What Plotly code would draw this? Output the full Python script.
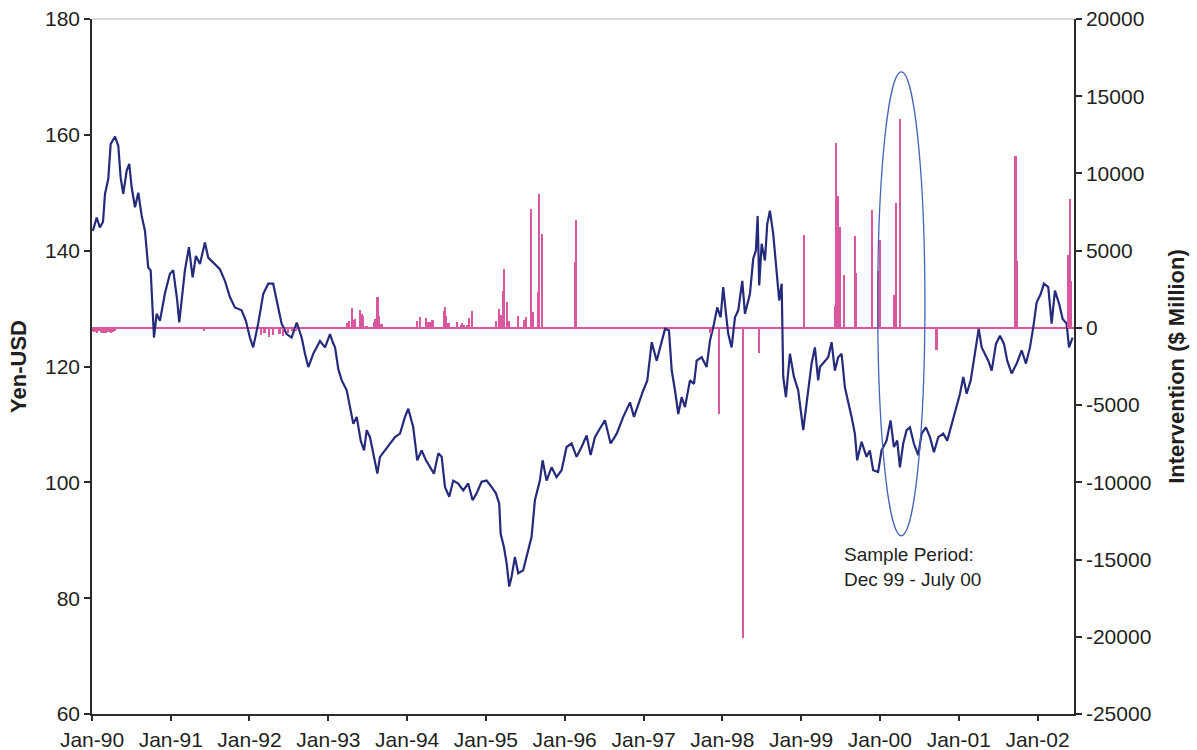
import pandas as pd
import plotly.graph_objects as go

# ---------------- data ----------------
# Yen per US dollar, time as decimal year
rate_year = [
    1990.01, 1990.06, 1990.10, 1990.14, 1990.165, 1990.207, 1990.237, 1990.292, 1990.334, 1990.364,
    1990.397, 1990.44, 1990.473, 1990.504, 1990.546, 1990.588, 1990.631, 1990.673, 1990.714, 1990.745,
    1990.787, 1990.821, 1990.863, 1990.926, 1990.99,
    1991.032, 1991.082, 1991.108, 1991.18, 1991.231, 1991.278, 1991.32, 1991.371, 1991.434, 1991.476,
    1991.561, 1991.624, 1991.688, 1991.751, 1991.815, 1991.90, 1991.954,
    1992.005, 1992.047, 1992.11, 1992.174, 1992.237, 1992.30, 1992.364, 1992.407, 1992.471, 1992.534,
    1992.598, 1992.661, 1992.703, 1992.745, 1992.808, 1992.893, 1992.957,
    1993.02, 1993.06, 1993.084, 1993.126, 1993.169, 1993.232, 1993.274, 1993.316, 1993.359, 1993.41,
    1993.452, 1993.486, 1993.528, 1993.57, 1993.621, 1993.655, 1993.718, 1993.782, 1993.845, 1993.909,
    1993.972,
    1994.014, 1994.077, 1994.128, 1994.184, 1994.239, 1994.289, 1994.34, 1994.395, 1994.438, 1994.48,
    1994.534, 1994.585, 1994.648, 1994.712, 1994.775, 1994.831, 1994.882, 1994.945,
    1995.009, 1995.072, 1995.127, 1995.169, 1995.187, 1995.228, 1995.263, 1995.296, 1995.326, 1995.368,
    1995.41, 1995.473, 1995.537, 1995.58, 1995.622, 1995.685, 1995.72, 1995.77, 1995.834, 1995.897,
    1995.961,
    1996.024, 1996.088, 1996.151, 1996.214, 1996.278, 1996.329, 1996.383, 1996.447, 1996.51, 1996.582,
    1996.659, 1996.742, 1996.827, 1996.878, 1996.933, 1996.996,
    1997.047, 1997.103, 1997.166, 1997.217, 1997.272, 1997.322, 1997.357, 1997.398, 1997.44, 1997.483,
    1997.525, 1997.589, 1997.64, 1997.674, 1997.737, 1997.80, 1997.843, 1997.885, 1997.935, 1997.978,
    1998.011, 1998.046, 1998.075, 1998.118, 1998.16, 1998.202, 1998.253, 1998.287, 1998.35, 1998.392,
    1998.426, 1998.448, 1998.468, 1998.499, 1998.541, 1998.57, 1998.604, 1998.646, 1998.689, 1998.722,
    1998.753, 1998.773, 1998.807, 1998.858, 1998.909, 1998.963,
    1999.027, 1999.078, 1999.133, 1999.175, 1999.217, 1999.239, 1999.28, 1999.344, 1999.387, 1999.429,
    1999.471, 1999.514, 1999.556, 1999.598, 1999.641, 1999.683, 1999.712, 1999.768, 1999.831, 1999.873,
    1999.915, 1999.978,
    2000.021, 2000.085, 2000.136, 2000.178, 2000.22, 2000.254, 2000.296, 2000.339, 2000.381, 2000.431,
    2000.486, 2000.529, 2000.584, 2000.635, 2000.685, 2000.74, 2000.803, 2000.854, 2000.91, 2000.964,
    2001.015, 2001.057, 2001.10, 2001.151, 2001.193, 2001.227, 2001.253, 2001.291, 2001.333, 2001.374,
    2001.418, 2001.472, 2001.523, 2001.574, 2001.615, 2001.671, 2001.735, 2001.798, 2001.853, 2001.904,
    2001.946, 2001.989,
    2002.04, 2002.081, 2002.136, 2002.179, 2002.221, 2002.275, 2002.319, 2002.369, 2002.40, 2002.445,
]
rate_yen = [
    143.4, 145.7, 144.0, 145.0, 149.8, 152.4, 158.4, 159.7, 158.1, 152.6,
    149.8, 153.8, 155.0, 150.9, 147.5, 150.0, 146.0, 143.4, 137.1, 136.6,
    125.0, 129.1, 127.9, 132.6, 136.0,
    136.6, 131.4, 127.6, 136.6, 140.6, 135.4, 139.1, 137.7, 141.4, 138.8,
    137.7, 136.8, 134.8, 132.0, 130.2, 129.7, 127.9,
    125.0, 123.3, 127.4, 132.5, 134.3, 134.3, 130.2, 127.4, 125.6, 125.0,
    127.6, 125.0, 122.2, 119.9, 122.2, 124.4, 123.3,
    125.6, 124.0, 123.3, 119.5, 117.6, 115.9, 113.0, 110.1, 111.3, 107.2,
    105.5, 109.0, 107.8, 105.0, 101.5, 104.4, 105.5, 106.7, 107.8, 108.4,
    111.3,
    112.7, 109.5, 103.8, 105.5, 103.8, 102.6, 101.5, 105.0, 104.4, 99.2,
    97.5, 100.3, 99.8, 98.6, 99.8, 96.9, 98.1, 100.1,
    100.3, 99.2, 98.1, 96.3, 91.1, 88.9, 86.0, 82.0, 83.7, 87.1,
    84.3, 84.8, 88.3, 90.6, 96.9, 100.3, 103.8, 100.3, 102.6, 100.9,
    102.1,
    106.1, 106.7, 104.4, 106.1, 108.1, 104.7, 107.8, 109.3, 110.7, 106.7,
    108.4, 111.3, 113.8, 111.3, 113.6, 115.9,
    117.6, 124.2, 121.0, 123.9, 126.5, 126.2, 119.3, 115.9, 111.8, 114.7,
    113.0, 117.6, 117.0, 121.0, 121.6, 119.9, 124.5, 126.8, 130.2, 128.5,
    133.7, 129.1, 125.6, 123.3, 128.5, 129.7, 134.8, 129.1, 132.5, 138.6,
    140.0, 146.0, 134.0, 141.2, 138.3, 144.6, 146.9, 142.9, 136.0, 131.4,
    134.3, 118.2, 114.7, 122.2, 118.2, 115.9,
    109.0, 114.1, 120.5, 123.3, 117.6, 119.9, 120.5, 121.6, 124.2, 119.3,
    121.6, 122.2, 116.4, 114.1, 111.3, 108.4, 103.8, 107.0, 104.4, 105.5,
    102.1, 101.8,
    105.5, 107.2, 110.7, 106.1, 107.2, 102.6, 106.7, 109.0, 109.5, 106.7,
    104.7, 108.4, 109.5, 107.8, 105.2, 107.8, 108.4, 107.2, 110.1, 112.4,
    115.3, 118.2, 115.3, 117.6, 121.0, 123.9, 126.5, 123.3, 122.2, 121.0,
    119.3, 123.9, 125.3, 123.9, 121.0, 118.8, 120.5, 122.8, 120.5, 123.3,
    126.8, 131.1,
    132.5, 134.3, 133.7, 127.4, 133.1, 130.8, 128.2, 127.4, 123.3, 125.0,
]

# Japanese intervention ($ million), time as decimal year
interv_year = [
    1990.005, 1990.027, 1990.049, 1990.071, 1990.093, 1990.115, 1990.137, 1990.159, 1990.181, 1990.203,
    1990.225, 1990.247, 1990.269, 1990.291,
    1990.558, 1991.43, 1991.637,
    1992.148, 1992.192, 1992.255, 1992.297, 1992.382, 1992.424, 1992.487, 1992.538, 1992.593,
    1993.245, 1993.265, 1993.30, 1993.316, 1993.341, 1993.401, 1993.423, 1993.443, 1993.486, 1993.579,
    1993.60, 1993.626, 1993.646, 1993.676,
    1994.128, 1994.162, 1994.239, 1994.268, 1994.298, 1994.324, 1994.467, 1994.48, 1994.501, 1994.527,
    1994.632, 1994.683, 1994.704, 1994.721, 1994.759, 1994.793, 1994.831,
    1995.127, 1995.169, 1995.199, 1995.22, 1995.237, 1995.266, 1995.292, 1995.406, 1995.482, 1995.508,
    1995.58, 1995.605, 1995.669, 1995.682, 1995.72,
    1996.13, 1996.151,
    1997.852, 1997.961, 1998.265, 1998.464,
    1999.04, 1999.438, 1999.451, 1999.467, 1999.501, 1999.547, 1999.687, 1999.705, 1999.907, 1999.978,
    2000.009, 2000.178, 2000.203, 2000.254, 2000.72,
    2001.722, 2001.735,
    2002.39, 2002.411, 2002.428,
]
interv_musd = [
    -200, -260, -250, -300, -220, -260, -300, -330, -300, -250,
    -280, -300, -250, -200,
    -80, -170, -80,
    -430, -320, -600, -430, -390, -540, -320, -215, -170,
    320, 430, 1300, 540, 580, 1190, 900, 760, 150, 370,
    580, 2000, 760, 260,
    475, 710, 650, 370, 370, 540, 1080, 1360, 760, 320,
    390, 215, 320, 170, 215, 650, 1120,
    430, 1230, 860, 2370, 3820, 1680, 475, 800, 540, 710,
    7700, 1040, 2310, 8700, 6110,
    4250, 7010,
    -330, -5560, -20050, -1630,
    6030, 1400, 11980, 8530, 6520, 3450, 5940, 3560, 7660, 3670,
    5680, 2120, 8100, 13530, -1450,
    11120, 4320,
    4750, 8370, 3020,
]

x_start, x_end = "1990-01-01", "2002-06-19"
sample_start, sample_end = "1999-12-22", "2000-07-28"
sample_low, sample_high = -13460, 16570
note_text = "Sample Period:<br>Dec 99 - July 00"
note_x, note_y = "1999-07-11", -15500

yen_ticks = [60, 80, 100, 120, 140, 160, 180]
interv_ticks = [-25000, -20000, -15000, -10000, -5000, 0, 5000, 10000, 15000, 20000]
interv_tick_text = ["-25000", "-20000", "-15000", "-10000", "-5000", "0",
                    "5000", "10000", "15000", "20000"]


def to_dates(years):
    out = []
    for y in years:
        yr = int(y)
        start = pd.Timestamp(year=yr, month=1, day=1)
        end = pd.Timestamp(year=yr + 1, month=1, day=1)
        out.append(start + (end - start) * (y - yr))
    return out


NAVY = "#252A7A"
PINK = "#D9579F"
AXIS = "#2B2B2B"
TEXT = "#231F20"
FONT = "Liberation Sans, Arial, Helvetica, sans-serif"
DAY_MS = 86400000

fig = go.Figure()
fig.add_trace(go.Scatter(
    x=to_dates(rate_year), y=rate_yen, mode="lines",
    line=dict(color=NAVY, width=2.2), name="Yen-USD", yaxis="y",
))
fig.add_trace(go.Bar(
    x=to_dates(interv_year), y=interv_musd, yaxis="y2", name="Intervention",
    marker=dict(color=PINK, line=dict(width=0)), width=8 * DAY_MS,
))

fig.add_shape(type="circle", xref="x", yref="y2",
              x0=sample_start, x1=sample_end, y0=sample_low, y1=sample_high,
              line=dict(color="#4563B8", width=1.3))
fig.add_shape(type="line", xref="paper", yref="paper", x0=0, x1=1, y0=1, y1=1,
              line=dict(color="#B5B5B5", width=1))

fig.add_annotation(x=note_x, y=note_y, xref="x", yref="y2", text=note_text,
                   showarrow=False, xanchor="left", yanchor="middle", align="left",
                   font=dict(family=FONT, size=19, color=TEXT))

axis_common = dict(showline=True, linecolor=AXIS, linewidth=1.5, showgrid=False,
                   ticks="outside", tickcolor=AXIS, tickwidth=1.5, automargin=False,
                   tickfont=dict(family=FONT, size=21, color=TEXT))

fig.update_layout(
    width=1197, height=750,
    margin=dict(l=92, r=123, t=19, b=36),
    plot_bgcolor="white", paper_bgcolor="white",
    showlegend=False, bargap=0,
    xaxis=dict(type="date", range=[x_start, x_end], tick0="1990-01-01", dtick="M12",
               tickformat="%b-%y", ticklen=5, zeroline=False, ticklabelstandoff=1,
               **axis_common),
    yaxis=dict(range=[60, 180], tickvals=yen_ticks, ticklen=6, zeroline=False,
               title=dict(text="<b>Yen-USD</b>", standoff=12,
                          font=dict(family=FONT, size=22, color=TEXT)),
               **axis_common),
    yaxis2=dict(overlaying="y", side="right", range=[-25000, 20000],
                tickvals=interv_ticks, ticktext=interv_tick_text, ticklen=6,
                zeroline=True, zerolinecolor=PINK, zerolinewidth=2,
                title=dict(text="<b>Intervention ($ Million)</b>", standoff=18,
                           font=dict(family=FONT, size=22, color=TEXT)),
                **axis_common),
)

fig.write_html("out.html", config={"displayModeBar": False},
               post_script="document.body.style.margin='0';")
